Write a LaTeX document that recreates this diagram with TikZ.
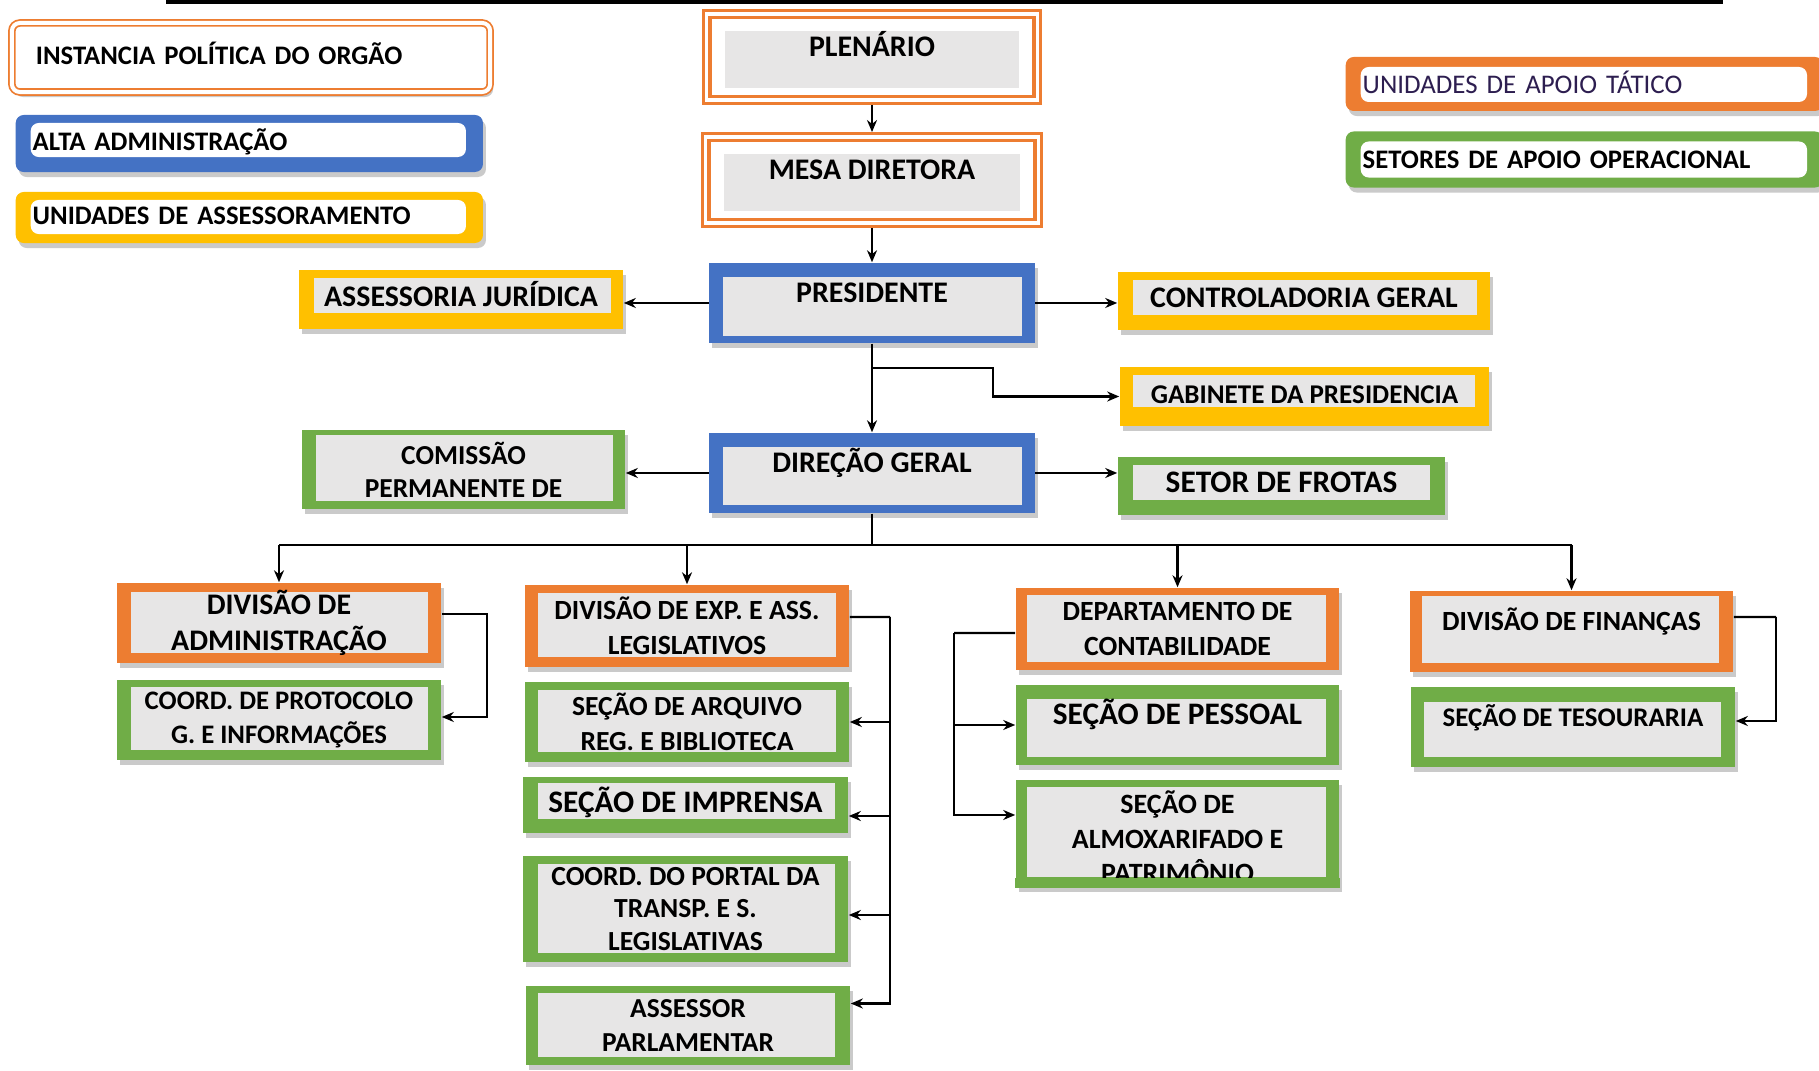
\documentclass[tikz,border=0pt]{standalone}
\usepackage{fontspec}
\setmainfont{Carlito}
\usetikzlibrary{arrows.meta,shadows}
\definecolor{taticoorange}{HTML}{ED7D31}
\definecolor{altablue}{HTML}{4472C4}
\definecolor{assessyellow}{HTML}{FFC000}
\definecolor{setorgreen}{HTML}{70AD47}
\definecolor{boxgrey}{HTML}{E7E6E6}
\definecolor{legendink}{RGB}{45,30,80}
\def\padL{13}\def\padR{13}\def\padT{8}\def\padB{10}
\def\boxfont{\fontsize{8.5pt}{10pt}\selectfont\bfseries}
\tikzset{
  pad/.code args={#1/#2/#3/#4}{\def\padL{#1}\def\padR{#2}\def\padT{#3}\def\padB{#4}},
  dims/.style args={#1/#2}{minimum width=#1cm,minimum height=#2cm},
  fs/.style args={#1/#2}{font=\fontsize{#1pt}{#2pt}\selectfont\bfseries},
  boxshadow/.style={drop shadow={shadow xshift=0.03cm,shadow yshift=-0.05cm,fill=black!35,opacity=0.6}},
  innerfill/.style={path picture={\fill[#1] ([shift={(\padL,-\padB)}]path picture bounding box.south west)
      rectangle ([shift={(-\padR,\padT)}]path picture bounding box.north east);}},
  orgbox/.style={fill=#1,inner sep=0pt,align=center,font=\boxfont,boxshadow,innerfill=boxgrey},
  oneline/.style={text height=0.18cm,text depth=0.04cm},
  uptext/.style={text height=0.18cm,text depth=0.19cm},
  instancia/.style={fill=white,draw=taticoorange,line width=0.8pt,inner sep=0pt,align=center,
    font=\boxfont,uptext,
    path picture={
      \draw[taticoorange,line width=1.1pt] ([shift={(7,-7)}]path picture bounding box.south west)
        rectangle ([shift={(-7,7)}]path picture bounding box.north east);
      \fill[boxgrey] ([shift={(22,-16)}]path picture bounding box.south west)
        rectangle ([shift={(-22,21)}]path picture bounding box.north east);}},
  legendbox/.style={fill=#1,rounded corners=0.08cm,inner xsep=0.17cm,inner ysep=0pt,
    align=left,anchor=west,text height=0.17cm,text depth=0.03cm,
    font=\fontsize{7.6pt}{9pt}\selectfont\bfseries,boxshadow,innerfill=white},
  link/.style={line width=0.6pt},
  arr/.style={link,-{Stealth[length=0.12cm,width=0.1cm]}},
}
\begin{document}
\begin{tikzpicture}[x=0.01cm,y=-0.01cm]
\useasboundingbox (0,0) rectangle (1819,1071);
\fill (166,0) rectangle (1723,4);
% legenda
\node[legendbox=white,draw=taticoorange,double=white,double distance=0.04cm,line width=0.5pt,
  inner xsep=0.24cm,text width=4.30cm,minimum height=0.69cm] (instancia) at (11,57.5) {INSTANCIA POLÍTICA DO ORGÃO};
\node[legendbox=altablue,pad=15/17/8/15,text width=4.33cm,minimum height=0.57cm] (altaadm) at (15,143.5) {ALTA ADMINISTRAÇÃO};
\node[legendbox=assessyellow,pad=15/17/8/9,text width=4.33cm,minimum height=0.51cm] (assessoramento) at (15,217.5) {UNIDADES DE ASSESSORAMENTO};
\node[legendbox=taticoorange,pad=15/16/10/9,text width=4.43cm,minimum height=0.54cm,text height=0.22cm,
  font=\fontsize{7.65pt}{9pt}\selectfont,text=legendink] (apoiotatico) at (1345,84) {UNIDADES DE APOIO TÁTICO};
\node[legendbox=setorgreen,pad=15/16/10/10,text width=4.43cm,minimum height=0.56cm,text height=0.22cm] (apoiooper) at (1345,159.5) {SETORES DE APOIO OPERACIONAL};
% instancias e alta administracao
\node[instancia,dims=3.37/0.93] (plenario) at (872,57) {PLENÁRIO};
\node[instancia,dims=3.39/0.93] (mesa) at (872,180) {MESA DIRETORA};
\node[orgbox=altablue,dims=3.25/0.80,pad=14/13/14/7,uptext] (presidente) at (872,303) {PRESIDENTE};
\node[orgbox=assessyellow,dims=3.24/0.59,pad=15/12/8/16,oneline] (assessoria) at (461,299.5) {ASSESSORIA JURÍDICA};
\node[orgbox=assessyellow,dims=3.72/0.58,pad=15/13/8/15,oneline] (controladoria) at (1304,301) {CONTROLADORIA GERAL};
\node[orgbox=assessyellow,dims=3.69/0.59,pad=13/14/8/19,oneline,fs=7.7/9] (gabinete) at (1304.5,396.5) {GABINETE DA PRESIDENCIA};
\node[orgbox=altablue,dims=3.25/0.80,pad=14/13/14/8,uptext] (direcao) at (872,473) {DIREÇÃO GERAL};
\node[orgbox=setorgreen,dims=3.23/0.79,pad=14/12/5/8,fs=7.8/9.4] (comissao) at (463.5,469.5) {COMISSÃO\\PERMANENTE DE};
\node[orgbox=setorgreen,dims=3.27/0.58,pad=15/15/8/15,oneline,fs=8.9/10] (frotas) at (1281.5,486) {SETOR DE FROTAS};
% divisoes e setores
\node[orgbox=taticoorange,dims=3.24/0.80,pad=14/13/9/10,fs=8.5/10.2] (divadm) at (279,623) {DIVISÃO DE\\ADMINISTRAÇÃO};
\node[orgbox=setorgreen,dims=3.24/0.80,pad=14/13/7/10,fs=7.6/9.7] (protocolo) at (279,720) {COORD. DE PROTOCOLO\\G. E INFORMAÇÕES};
\node[orgbox=taticoorange,dims=3.24/0.82,fs=7.9/9.9] (divexp) at (687,626) {DIVISÃO DE EXP. E ASS.\\LEGISLATIVOS};
\node[orgbox=setorgreen,dims=3.24/0.80,fs=7.85/9.9] (arquivo) at (687,722) {SEÇÃO DE ARQUIVO\\REG. E BIBLIOTECA};
\node[orgbox=setorgreen,dims=3.25/0.56,pad=15/13/6/14,oneline,fs=8.9/10] (imprensa) at (685.5,805) {SEÇÃO DE IMPRENSA};
\node[orgbox=setorgreen,dims=3.25/1.06,pad=15/13/8/9,fs=7.85/9.2] (portal) at (685.5,909) {COORD. DO PORTAL DA\\TRANSP. E S.\\LEGISLATIVAS};
\node[orgbox=setorgreen,dims=3.24/0.79,pad=12/15/7/8,fs=7.8/9.8] (assessor) at (688,1025.5) {ASSESSOR\\PARLAMENTAR};
\node[orgbox=taticoorange,dims=3.23/0.82,pad=11/13/7/8,fs=7.9/9.8] (depto) at (1177.5,629) {DEPARTAMENTO DE\\CONTABILIDADE};
\node[orgbox=setorgreen,dims=3.23/0.80,pad=11/13/14/8,uptext,fs=8.9/10] (pessoal) at (1177.5,725) {SEÇÃO DE PESSOAL};
\node[orgbox=setorgreen,dims=3.23/1.07,pad=11/13/7/10,fs=7.95/9.8] (almox) at (1177.5,833.5)
  {\rule{0pt}{0.3cm}SEÇÃO DE\\ALMOXARIFADO E\\PATRIMÔNIO};
\fill[setorgreen] ([yshift=0.10cm]almox.south west) rectangle (almox.south east);
\node[orgbox=taticoorange,dims=3.23/0.81,pad=12/14/5/9,uptext,fs=7.9/9.6] (divfin) at (1571.5,631.5) {DIVISÃO DE FINANÇAS};
\node[orgbox=setorgreen,dims=3.24/0.80,pad=13/14/15/10,uptext,fs=7.65/9.6] (tesouraria) at (1573,727) {SEÇÃO DE TESOURARIA};
% ligacoes
\draw[arr] (plenario.south) -- (mesa.north);
\draw[arr] (mesa.south) -- (presidente.north);
\draw[arr] (presidente.west) -- (presidente.west -| assessoria.east);
\draw[arr] (presidente.east) -- (presidente.east -| controladoria.west);
\draw[arr] (presidente.south) -- (direcao.north);
\coordinate (gabknee) at (993,368);
\draw[arr] (presidente.south |- gabknee) -- (gabknee) |- (gabinete.west);
\draw[arr] (direcao.west) -- (direcao.west -| comissao.east);
\draw[arr] (direcao.east) -- (direcao.east -| frotas.west);
\coordinate (bus) at (872,545);
\draw[link] (direcao.south) -- (bus);
\draw[link] (bus -| divadm.north) -- (bus -| divfin.north);
\foreach \n in {divadm,divexp,depto,divfin} \draw[arr] (bus -| \n.north) -- (\n.north);
\draw[arr] ([yshift=0.09cm]divadm.east) -- ++(45,0) |- ([yshift=0.03cm]protocolo.east);
\coordinate (expknee) at (890,617);
\draw[link] ([yshift=0.09cm]divexp.east) -- (expknee);
\foreach \n/\dy in {arquivo/0,imprensa/-0.11,portal/-0.06,assessor/0.22}
  \draw[arr] (expknee) |- ([yshift=\dy cm]\n.east);
\coordinate (contknee) at (954,633);
\draw[link] ([yshift=-0.04cm]depto.west) -- (contknee);
\draw[arr] (contknee) |- (pessoal.west);
\draw[arr] (contknee) |- ([yshift=0.185cm]almox.west);
\coordinate (finknee) at (1776,617);
\draw[link] ([yshift=0.145cm]divfin.east) -- (finknee);
\draw[arr] (finknee) |- ([yshift=0.06cm]tesouraria.east);
\end{tikzpicture}
\end{document}
